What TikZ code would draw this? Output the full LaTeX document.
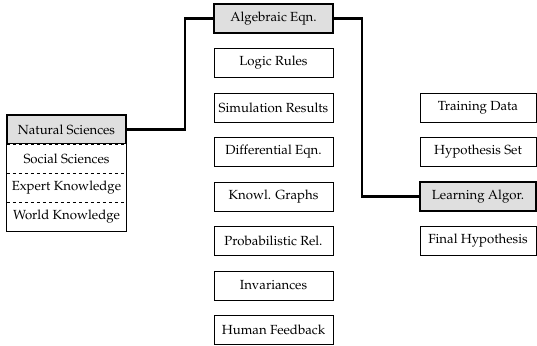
\documentclass[tikz,border=0pt]{standalone}
\usepackage[T1]{fontenc}
\usepackage{mathpazo}
\begin{document}
\begin{tikzpicture}[x=1pt,y=-1pt,
  box/.style={draw, line width=0.7pt, minimum width=119pt, minimum height=29pt, inner sep=0pt, font=\fontsize{13.2}{16}\selectfont},
  hl/.style={box, fill=gray!25, line width=2.2pt},
  cell/.style={minimum width=119pt, minimum height=29pt, inner sep=0pt, font=\fontsize{13.2}{16}\selectfont},
  conn/.style={line width=2.2pt}]
\useasboundingbox (0,0) rectangle (537,345);
% middle column
\node[hl]  (alg)  at (273.5,18.5) {Algebraic Eqn.};
\node[box] (logic) at (273.5,63) {Logic Rules};
\node[box] (sim)  at (273.5,107.5) {Simulation Results};
\node[box] (diff) at (273.5,152) {Differential Eqn.};
\node[box] (kg)   at (273.5,196.5) {Knowl. Graphs};
\node[box] (prob) at (273.5,241) {Probabilistic Rel.};
\node[box] (inv)  at (273.5,285.5) {Invariances};
\node[box] (hf)   at (273.5,329.5) {Human Feedback};
% right column
\node[box, minimum width=116pt] (train) at (478,107.5) {Training Data};
\node[box, minimum width=116pt] (hyp)   at (478,152) {Hypothesis Set};
\node[hl, minimum width=116pt]  (learn) at (478,196.5) {Learning Algor.};
\node[box, minimum width=116pt] (final) at (478,241) {Final Hypothesis};
% left stack
\node[cell, fill=gray!25] (nat) at (66.5,129.5) {Natural Sciences};
\node[cell] (soc) at (66.5,158.5) {Social Sciences};
\node[cell] (exp) at (66.5,187.5) {Expert Knowledge};
\node[cell] (wor) at (66.5,216.5) {World Knowledge};
\draw[line width=0.7pt] (soc.north west) rectangle (wor.south east);
\draw[line width=0.7pt, dashed] (soc.south west) -- (soc.south east);
\draw[line width=0.7pt, dashed] (exp.south west) -- (exp.south east);
\draw[line width=2.2pt] (nat.south west) -- (nat.north west) -- (nat.north east) -- (nat.south east);
\draw[line width=2.2pt, dashed] (nat.south west) -- (nat.south east);
% connectors
\draw[conn] (nat.east) -- ++(59,0) |- (alg.west);
\draw[conn] (alg.east) -- ++(28,0) |- (learn.west);
\end{tikzpicture}
\end{document}
